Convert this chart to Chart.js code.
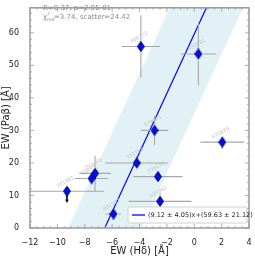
<!DOCTYPE html>
<html>
<head>
<meta charset="utf-8">
<script src="https://cdn.jsdelivr.net/npm/chart.js@4.4.1/dist/chart.umd.min.js"></script>
<style>
  body { margin: 0; background: #fff; }
  #wrap { width: 255px; height: 257px; }
</style>
</head>
<body>
<div id="wrap"><canvas id="chart"></canvas></div>
<script>
// Data
const xVals = [-9.3, -7.5, -7.25, -5.9, -4.2, -2.65, -2.5, 2.05, -2.9, -3.9, 0.3];
const yVals = [11.3, 15.2, 16.8, 4.3, 20.0, 15.8, 8.2, 26.4, 30.0, 55.8, 53.5];
const xErr  = [2.7, 1.2, 1.15, 0.55, 2.3, 1.8, 2.3, 1.6, 1.0, 1.4, 1.3];
const yErr  = [0, 2.0, 5.4, 1.5, 2.0, 1.5, 2.5, 2.0, 4.5, 9.5, 9.7];
const upperLim = [true, false, false, false, false, false, false, false, false, false, false];
const ids = ["331385", "658457", "793466", "681587", "773784", "578239", "635662", "670839", "578651", "466112", "492881"];

// Fit results
const fitSlope = 9.12, fitSlopeErr = 4.05;
const fitIcpt = 59.63, fitIcptErr = 21.12;
const scatter = 24.42;
const statLine = "R=0.37, p=2.9E-01";

const xMin = -12, xMax = 4, yMin = 0, yMax = 67.7;
const xTicks = [-12, -10, -8, -6, -4, -2, 0, 2, 4];
const yTicks = [0, 10, 20, 30, 40, 50, 60];

// points for the fit line and the scatter band
const fitLine = [xMin, xMax].map(x => ({ x: x, y: fitSlope * x + fitIcpt }));
const bandHi = [xMin, xMax].map(x => ({ x: x, y: fitSlope * x + fitIcpt + scatter }));
const bandLo = [xMin, xMax].map(x => ({ x: x, y: fitSlope * x + fitIcpt - scatter }));

// error bars as broken line segments
const xBars = [], yBars = [], limArrows = [], limHeads = [];
for (let i = 0; i < xVals.length; i++) {
  xBars.push({ x: xVals[i] - xErr[i], y: yVals[i] }, { x: xVals[i] + xErr[i], y: yVals[i] }, { x: NaN, y: NaN });
  if (upperLim[i]) {
    limArrows.push({ x: xVals[i], y: yVals[i] }, { x: xVals[i], y: yVals[i] - 2.6 }, { x: NaN, y: NaN });
    limHeads.push({ x: xVals[i], y: yVals[i] - 2.9 });
  } else if (yErr[i] > 0) {
    yBars.push({ x: xVals[i], y: yVals[i] - yErr[i] }, { x: xVals[i], y: yVals[i] + yErr[i] }, { x: NaN, y: NaN });
  }
}
const pts = xVals.map((x, i) => ({ x: x, y: yVals[i] }));

// thin diamond marker
function thinDiamond() {
  const c = document.createElement('canvas');
  c.width = 8; c.height = 11;
  const g = c.getContext('2d');
  g.beginPath();
  g.moveTo(4, 0.5); g.lineTo(7.5, 5.5); g.lineTo(4, 10.5); g.lineTo(0.5, 5.5); g.closePath();
  g.fillStyle = '#0010e0'; g.fill();
  g.strokeStyle = '#00008b'; g.lineWidth = 1; g.stroke();
  return c;
}
const diamond = thinDiamond();

const minus = v => String(v).replace('-', '\u2212');

// frame, inward ticks, point labels, stats text and legend
const decor = {
  id: 'decor',
  afterDatasetsDraw(chart) {
    const ctx = chart.ctx, a = chart.chartArea;
    const sx = chart.scales.x, sy = chart.scales.y;
    ctx.save();
    // point ids
    ctx.fillStyle = '#c4c4c4';
    ctx.font = '5px "DejaVu Sans"';
    ctx.textAlign = 'center';
    for (let i = 0; i < xVals.length; i++) {
      const px = sx.getPixelForValue(xVals[i]), py = sy.getPixelForValue(yVals[i]);
      ctx.save();
      ctx.translate(px - 1, py - 8);
      ctx.rotate(-0.5);
      ctx.fillText(ids[i], 0, 0);
      ctx.restore();
    }
    // stats
    ctx.fillStyle = '#8a8a8a';
    ctx.font = '7px "DejaVu Sans"';
    ctx.textAlign = 'left';
    ctx.fillText(statLine, 43, 10);
    ctx.fillText('χ', 43, 19);
    ctx.font = '4.5px "DejaVu Sans"';
    ctx.fillText('2', 47, 15);
    ctx.fillText('red', 47, 21);
    ctx.font = '7px "DejaVu Sans"';
    ctx.fillText('=3.74, scatter=24.42', 54, 19);
    // frame
    ctx.strokeStyle = '#9a9a9a';
    ctx.lineWidth = 1.5;
    ctx.strokeRect(a.left, a.top, a.right - a.left, a.bottom - a.top);
    // ticks
    ctx.lineWidth = 0.8;
    ctx.beginPath();
    for (let v = xMin; v <= xMax + 1e-9; v += 0.5) {
      const p = sx.getPixelForValue(v);
      const L = (Math.abs(v % 2) < 1e-9) ? 4 : 2;
      ctx.moveTo(p, a.bottom); ctx.lineTo(p, a.bottom - L);
      ctx.moveTo(p, a.top); ctx.lineTo(p, a.top + L);
    }
    for (let v = yMin; v <= yMax; v += 2) {
      const p = sy.getPixelForValue(v);
      const L = (v % 10 === 0) ? 4 : 2;
      ctx.moveTo(a.left, p); ctx.lineTo(a.left + L, p);
      ctx.moveTo(a.right, p); ctx.lineTo(a.right - L, p);
    }
    ctx.stroke();
    // legend
    const lx = a.right - 121, ly = a.bottom - 21, lw = 119, lh = 16;
    ctx.fillStyle = 'rgba(255,255,255,0.85)';
    ctx.strokeStyle = '#d0d0d0';
    ctx.lineWidth = 1;
    ctx.beginPath();
    ctx.roundRect(lx, ly, lw, lh, 2);
    ctx.fill(); ctx.stroke();
    ctx.strokeStyle = '#0000ff';
    ctx.lineWidth = 1.3;
    ctx.beginPath();
    ctx.moveTo(lx + 4, ly + lh / 2); ctx.lineTo(lx + 17, ly + lh / 2);
    ctx.stroke();
    ctx.fillStyle = '#222';
    ctx.font = '6.5px "DejaVu Sans"';
    ctx.textBaseline = 'middle';
    ctx.fillText('(' + fitSlope.toFixed(2) + ' \u00b1 ' + fitSlopeErr.toFixed(2) + ')x+(' +
      fitIcpt.toFixed(2) + ' \u00b1 ' + fitIcptErr.toFixed(2) + ')', lx + 20, ly + lh / 2 + 0.5);
    ctx.restore();
  }
};

new Chart(document.getElementById('chart'), {
  type: 'scatter',
  data: {
    datasets: [
      { data: pts, pointStyle: diamond, pointRadius: 5, order: 0 },
      { data: limHeads, pointStyle: 'triangle', rotation: 180, pointRadius: 2.2, backgroundColor: '#111', borderColor: '#111', borderWidth: 0, order: 1 },
      { data: limArrows, showLine: true, spanGaps: false, borderColor: '#111', borderWidth: 1, pointRadius: 0, order: 2 },
      { data: xBars, showLine: true, spanGaps: false, borderColor: '#a8a8a8', borderWidth: 1.1, pointRadius: 0, order: 3 },
      { data: yBars, showLine: true, spanGaps: false, borderColor: '#a8a8a8', borderWidth: 1.1, pointRadius: 0, order: 4 },
      { data: fitLine, showLine: true, borderColor: '#0000ff', borderWidth: 1.2, pointRadius: 0, order: 5 },
      { data: bandHi, showLine: true, borderWidth: 0, pointRadius: 0, fill: false, order: 6 },
      { data: bandLo, showLine: true, borderWidth: 0, pointRadius: 0, fill: '-1', backgroundColor: 'rgba(173,216,230,0.35)', order: 7 }
    ]
  },
  options: {
    responsive: true,
    maintainAspectRatio: false,
    animation: false,
    layout: { padding: { top: 1, right: 3, left: 0, bottom: 0 } },
    plugins: { legend: { display: false }, tooltip: { enabled: false }, filler: { drawTime: 'beforeDatasetsDraw' } },
    scales: {
      x: {
        type: 'linear', min: xMin, max: xMax,
        grid: { display: false }, border: { display: false },
        afterBuildTicks: s => { s.ticks = xTicks.map(v => ({ value: v })); },
        afterFit: s => { s.height = 29; },
        ticks: { padding: 2, color: '#222', font: { size: 8, family: 'DejaVu Sans' }, callback: v => minus(v), maxRotation: 0 },
        title: { display: true, text: 'EW (H\u03b4) [\u00c5]', color: '#222', font: { size: 10, family: 'DejaVu Sans' }, padding: { top: 0, bottom: 0 } }
      },
      y: {
        type: 'linear', min: yMin, max: yMax,
        grid: { display: false }, border: { display: false },
        afterBuildTicks: s => { s.ticks = yTicks.map(v => ({ value: v })); },
        afterFit: s => { s.width = 30; },
        ticks: { padding: 3, color: '#222', font: { size: 8, family: 'DejaVu Sans' } },
        title: { display: true, text: 'EW (Pa\u03b2) [\u00c5]', color: '#222', font: { size: 10, family: 'DejaVu Sans' }, padding: { top: 0, bottom: 0 } }
      }
    }
  },
  plugins: [decor]
});
</script>
</body>
</html>
